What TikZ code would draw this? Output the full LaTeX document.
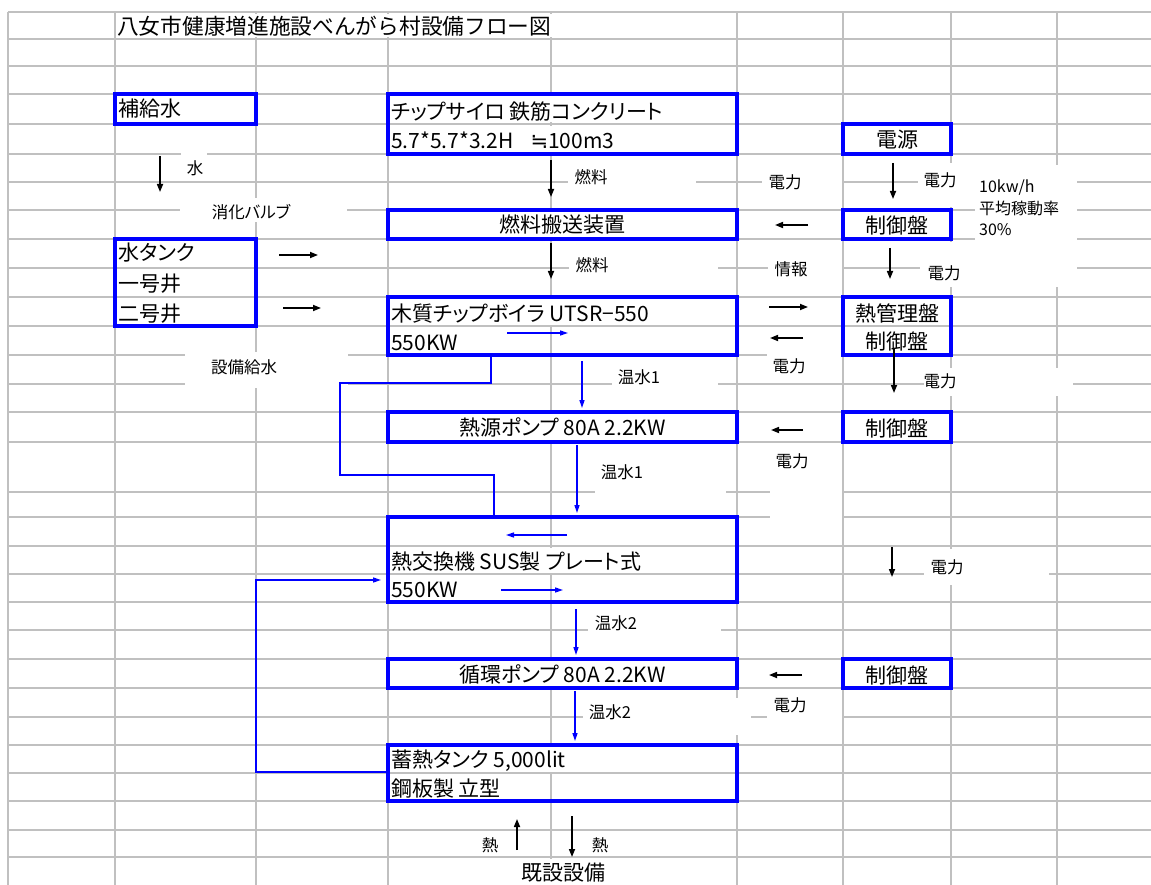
\documentclass[tikz,border=0pt]{standalone}
\usepackage{fontspec}
\newfontfamily\jp[RawFeature=+palt]{Noto Sans CJK JP}
\newfontfamily\jpw{Noto Sans CJK JP}
\newfontfamily\dv{DejaVu Sans}
\usetikzlibrary{arrows.meta}
\definecolor{gridc}{HTML}{C0C0C0}
\definecolor{bblue}{HTML}{0000FF}
\tikzset{
  gridln/.style={draw=gridc, line width=1.8pt},
  bbox/.style={draw=bblue, line width=4pt, inner sep=0pt},
  big/.style={font=\jp\fontsize{21}{25}\selectfont, inner sep=0pt, text height=18.5pt, text depth=2.5pt},
  titlefont/.style={font=\jpw\fontsize{21.7}{25}\selectfont, inner sep=0pt, text height=19pt, text depth=2.6pt},
  small/.style={font=\jp\fontsize{16.5}{21}\selectfont, inner sep=0pt, text height=14.5pt, text depth=2pt},
  wbg/.style={fill=white},
  hide/.style={fill=white},
  arr/.style={-{Triangle[length=8pt,width=6pt]}, line width=1.6pt, black},
  barr/.style={-{Triangle[length=8pt,width=5pt]}, line width=1.4pt, bblue},
  bln/.style={line width=1.4pt, bblue},
}
\begin{document}
\begin{tikzpicture}[x=1pt,y=-1pt]
\useasboundingbox (0,0) rectangle (1151,885);
\fill[white] (0,0) rectangle (1151,885);
% ---------- spreadsheet grid ----------
\foreach \y in {12,39,66,94,124,154,182,210,239,268,297,326,355,384,412,442,492,517,546,574,602,630,659,688,717,745,773,801,830,857}
  \draw[gridln] (8,\y) -- (1151,\y);
\foreach \x in {8,115,256,388,551,737,843,951,1057}
  \draw[gridln] (\x,12) -- (\x,885);
% ---------- cells covered by overflowing text ----------
\fill[hide] (120,14) rectangle (560,37.5);
\fill[hide] (392,96) rectangle (670,122.5);
\fill[hide] (392,126) rectangle (625,152.5);
\fill[hide] (495,212) rectangle (630,237.5);
\fill[hide] (392,299) rectangle (655,324.5);
\fill[hide] (455,414) rectangle (670,440.5);
\fill[hide] (392,548) rectangle (660,572.5);
\fill[hide] (455,661) rectangle (670,686.5);
\fill[hide] (392,747) rectangle (556,771.5);
\fill[hide] (510,859) rectangle (615,885);
% ---------- white label backgrounds ----------
\fill[wbg] (181,142) rectangle (207,178);
\fill[wbg] (180,198) rectangle (347,222);
\fill[wbg] (185,352) rectangle (348,388);
\fill[wbg] (568,163) rectangle (696,200);
\fill[wbg] (762,162) rectangle (841.5,204);
\fill[wbg] (918,163) rectangle (975,207);
\fill[wbg] (975,165) rectangle (1077,287);
\fill[wbg] (920,242) rectangle (975,287);
\fill[wbg] (569,250) rectangle (718,288);
\fill[wbg] (768,250) rectangle (841.5,288);
\fill[wbg] (767,345) rectangle (841.5,380);
\fill[wbg] (612,362) rectangle (718,400);
\fill[wbg] (924,368) rectangle (1073,396);
\fill[wbg] (595,455) rectangle (726,505);
\fill[wbg] (770,447) rectangle (841.5,524);
\fill[wbg] (924,549) rectangle (1049,585);
\fill[wbg] (588,610) rectangle (721,645);
\fill[wbg] (583,698) rectangle (751,735);
\fill[wbg] (767,692) rectangle (841.5,735);
% ---------- blue boxes ----------
\node[bbox, minimum width=141pt, minimum height=30pt] (hokyu) at (185.5,109) {};
\node[bbox, minimum width=141pt, minimum height=87pt] (wtank) at (185.5,282.5) {};
\node[bbox, minimum width=349pt, minimum height=60pt] (silo) at (562.5,124) {};
\node[bbox, minimum width=349pt, minimum height=29pt] (conv) at (562.5,224.5) {};
\node[bbox, minimum width=349pt, minimum height=58pt] (boiler) at (562.5,326) {};
\node[bbox, minimum width=349pt, minimum height=30pt] (hpump) at (562.5,427) {};
\node[bbox, minimum width=349pt, minimum height=85pt] (hex) at (562.5,559.5) {};
\node[bbox, minimum width=349pt, minimum height=29pt] (cpump) at (562.5,673.5) {};
\node[bbox, minimum width=349pt, minimum height=56pt] (stor) at (562.5,773) {};
\node[bbox, minimum width=108pt, minimum height=30pt] (dengen) at (897,139) {};
\node[bbox, minimum width=108pt, minimum height=29pt] (ctlA) at (897,224.5) {};
\node[bbox, minimum width=108pt, minimum height=58pt] (mgmt) at (897,326) {};
\node[bbox, minimum width=108pt, minimum height=30pt] (ctlB) at (897,427) {};
\node[bbox, minimum width=108pt, minimum height=29pt] (ctlC) at (897,673.5) {};
% ---------- blue water lines ----------
\coordinate (xb1) at (582,0);
\coordinate (xb2) at (577,0);
\coordinate (xb3) at (576,0);
\coordinate (xb4) at (575,0);
\draw[barr, shorten <=4pt, shorten >=2pt] (boiler.south -| xb1) -- (hpump.north -| xb1);
\draw[barr, shorten <=1pt, shorten >=2pt] (hpump.south -| xb2) -- (hex.north -| xb2);
\draw[barr, shorten <=5pt, shorten >=2pt] (hex.south -| xb3) -- (cpump.north -| xb3);
\draw[barr, shorten <=1pt, shorten >=2pt] (cpump.south -| xb4) -- (stor.north -| xb4);
\coordinate (lpA) at (491,0);
\coordinate (lp1) at (491,383);
\coordinate (lp2) at (340,383);
\coordinate (lp3) at (340,475);
\coordinate (lp4) at (494,475);
\draw[bln] (boiler.south -| lpA) -- (lp1) -- (lp2) -- (lp3) -- (lp4) -- (hex.north -| lp4);
\coordinate (rt1) at (0,772);
\coordinate (rt2) at (256,772);
\coordinate (rt3) at (256,580);
\draw[barr, shorten >=5pt] (stor.west |- rt1) -- (rt2) -- (rt3) -- (hex.west |- rt3);
\coordinate (ib1) at (507,333); \coordinate (ib2) at (568,333);
\draw[barr] (ib1) -- (ib2);
\coordinate (ih1) at (567,535); \coordinate (ih2) at (506,535);
\draw[barr] (ih1) -- (ih2);
\coordinate (ih3) at (501,590); \coordinate (ih4) at (563,590);
\draw[barr] (ih3) -- (ih4);
% ---------- black arrows ----------
\coordinate (a1s) at (160,156); \coordinate (a1e) at (160,192);
\coordinate (a2s) at (279,255); \coordinate (a2e) at (318,255);
\coordinate (a3s) at (283,308); \coordinate (a3e) at (321,308);
\coordinate (a4s) at (551,160); \coordinate (a4e) at (551,197);
\coordinate (a5s) at (551,243); \coordinate (a5e) at (551,279);
\coordinate (a6s) at (893,163); \coordinate (a6e) at (893,199);
\coordinate (a7s) at (808,225); \coordinate (a7e) at (775,225);
\coordinate (a8s) at (890,248); \coordinate (a8e) at (890,279);
\coordinate (a9s) at (769,307); \coordinate (a9e) at (808,307);
\coordinate (a10s) at (803,338); \coordinate (a10e) at (770,338);
\coordinate (a11s) at (894,348); \coordinate (a11e) at (894,393);
\coordinate (a12s) at (803,430); \coordinate (a12e) at (771,430);
\coordinate (a13s) at (892,547); \coordinate (a13e) at (892,577);
\coordinate (a14s) at (802,675); \coordinate (a14e) at (769,675);
\coordinate (a15s) at (517,850); \coordinate (a15e) at (517,819);
\coordinate (a16s) at (572,816); \coordinate (a16e) at (572,857);
\foreach \a in {a1,a2,a3,a4,a5,a6,a7,a8,a9,a10,a11,a12,a13,a14,a15,a16}
  \draw[arr] (\a s) -- (\a e);
% ---------- texts ----------
\node[titlefont, anchor=west] (title) at (117,26) {八女市健康増進施設べんがら村設備フロー図};
\node[big, anchor=west] (t-hokyu) at (118,109) {補給水};
\node[big, anchor=west] (t-wt1) at (118,253) {水タンク};
\node[big, anchor=west] (t-wt2) at (118,284) {一号井};
\node[big, anchor=west] (t-wt3) at (118,313) {二号井};
\node[big, anchor=west] (t-silo1) at (391,112) {チップサイロ 鉄筋コンクリート};
\node[big, anchor=west] (t-silo2) at (391,141) {5.7*5.7*3.2H\hspace{17pt}{\dv ≒}100m3};
\node[big] (t-conv) at (562.5,225) {燃料搬送装置};
\node[big, anchor=west] (t-boil1) at (391,313) {木質チップボイラ UTSR−550};
\node[big, anchor=west] (t-boil2) at (391,342) {550KW};
\node[big] (t-hpump) at (562.5,427) {熱源ポンプ 80A 2.2KW};
\node[big, anchor=west] (t-hex1) at (391,561) {熱交換機 SUS製 プレート式};
\node[big, anchor=west] (t-hex2) at (391,589) {550KW};
\node[big] (t-cpump) at (562.5,674) {循環ポンプ 80A 2.2KW};
\node[big, anchor=west] (t-stor1) at (391,759) {蓄熱タンク 5,000lit};
\node[big, anchor=west] (t-stor2) at (391,788) {鋼板製 立型};
\node[big] (t-exist) at (563,872) {既設設備};
\node[big] (t-dengen) at (897,140) {電源};
\node[big] (t-ctlA) at (897,226) {制御盤};
\node[big] (t-mgmt1) at (897,313) {熱管理盤};
\node[big] (t-mgmt2) at (897,341) {制御盤};
\node[big] (t-ctlB) at (897,428) {制御盤};
\node[big] (t-ctlC) at (897,675) {制御盤};
% small labels
\node[small] (l-mizu) at (195,168) {水};
\node[small] (l-valve) at (251,212) {消化バルブ};
\node[small] (l-setsubi) at (244,367) {設備給水};
\node[small] (l-fuel1) at (591,177) {燃料};
\node[small] (l-fuel2) at (592,265) {燃料};
\node[small] (l-pw1) at (785,182) {電力};
\node[small] (l-pw2) at (940,180) {電力};
\node[small] (l-info) at (791,269) {情報};
\node[small] (l-pw3) at (944,273) {電力};
\node[small] (l-pw4) at (789,366) {電力};
\node[small] (l-pw5) at (940,381) {電力};
\node[small] (l-hw1a) at (639,377) {温水1};
\node[small] (l-hw1b) at (622,472) {温水1};
\node[small] (l-pw6) at (792,461) {電力};
\node[small] (l-pw7) at (947,567) {電力};
\node[small] (l-hw2a) at (616,623) {温水2};
\node[small] (l-hw2b) at (610,712) {温水2};
\node[small] (l-pw8) at (790,705) {電力};
\node[small] (l-heat1) at (490,845) {熱};
\node[small] (l-heat2) at (600,845) {熱};
\node[font=\jp\fontsize{16}{21.5}\selectfont, inner sep=0pt, align=left, anchor=west] (l-spec) at (979,208) {10kw/h\\平均稼動率\\30\%};
\end{tikzpicture}
\end{document}
